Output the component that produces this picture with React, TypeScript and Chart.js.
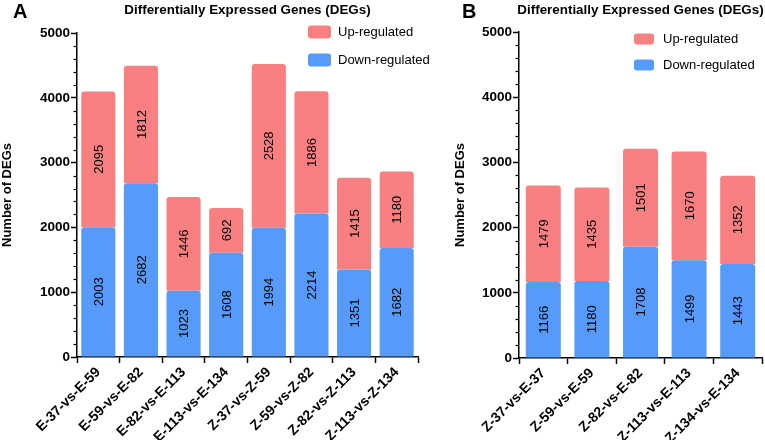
import React, { useEffect, useRef } from "react";
import { Chart, registerables } from "chart.js";

Chart.register(...registerables);

const FONT = '"Liberation Sans", Arial, Helvetica, sans-serif';

// ---------- data ----------
const categoriesA = [
  "E-37-vs-E-59",
  "E-59-vs-E-82",
  "E-82-vs-E-113",
  "E-113-vs-E-134",
  "Z-37-vs-Z-59",
  "Z-59-vs-Z-82",
  "Z-82-vs-Z-113",
  "Z-113-vs-Z-134",
];
const downA = [2003, 2682, 1023, 1608, 1994, 2214, 1351, 1682];
const upA = [2095, 1812, 1446, 692, 2528, 1886, 1415, 1180];

const categoriesB = [
  "Z-37-vs-E-37",
  "Z-59-vs-E-59",
  "Z-82-vs-E-82",
  "Z-113-vs-E-113",
  "Z-134-vs-E-134",
];
const downB = [1166, 1180, 1708, 1499, 1443];
const upB = [1479, 1435, 1501, 1670, 1352];

const yMin = 0;
const yMax = 5000;
const yMajorStep = 1000;
const yMinorStep = 200;

const chartTitle = "Differentially Expressed Genes (DEGs)";
const yTitle = "Number of DEGs";
const upLabel = "Up-regulated";
const downLabel = "Down-regulated";

const UP_COLOR = "#F98081";
const DOWN_COLOR = "#569BFA";

type Panel = {
  letter: string;
  width: number;
  left: number;
  categories: string[];
  down: number[];
  up: number[];
  padTop: number;
  padRight: number;
  yWidth: number;
  xHeight: number;
  barPct: number;
  yTitlePad: number;
  letterX: number;
  legendBox: { x: number; w: number; h: number; textX: number; rows: number[] };
};

const panelA: Panel = {
  letter: "A",
  width: 440,
  left: 0,
  categories: categoriesA,
  down: downA,
  up: upA,
  padTop: 33,
  padRight: 22,
  yWidth: 77,
  xHeight: 83,
  barPct: 0.8,
  yTitlePad: 0,
  letterX: 13,
  legendBox: { x: 308, w: 23, h: 13, textX: 338, rows: [32, 60] },
};

const panelB: Panel = {
  letter: "B",
  width: 325,
  left: 440,
  categories: categoriesB,
  down: downB,
  up: upB,
  padTop: 32,
  padRight: 3,
  yWidth: 79,
  xHeight: 82,
  barPct: 0.72,
  yTitlePad: 13,
  letterX: 22,
  legendBox: { x: 194, w: 20, h: 11, textX: 223, rows: [39, 65] },
};

function makeDecor(p: Panel) {
  return {
    id: "decor" + p.letter,
    afterDatasetsDraw(chart: any) {
      const ctx = chart.ctx;
      ctx.save();
      ctx.font = `13px ${FONT}`;
      ctx.fillStyle = "#000";
      ctx.textAlign = "center";
      ctx.textBaseline = "middle";
      chart.data.datasets.forEach((ds: any, di: number) => {
        const meta = chart.getDatasetMeta(di);
        meta.data.forEach((el: any, i: number) => {
          const v = ds.data[i];
          const cy = (el.y + el.base) / 2;
          ctx.save();
          ctx.translate(el.x, cy);
          ctx.rotate(-Math.PI / 2);
          ctx.fillText(String(v), 0, 1);
          ctx.restore();
        });
      });
      ctx.restore();
    },
    afterDraw(chart: any) {
      const ctx = chart.ctx;
      const ys = chart.scales.y;
      const area = chart.chartArea;
      ctx.save();
      // minor ticks
      ctx.strokeStyle = "#000";
      ctx.lineWidth = 1.2;
      const x0 = ys.right;
      for (let v = yMin + yMinorStep; v < yMax; v += yMinorStep) {
        if (v % yMajorStep === 0) continue;
        const py = Math.round(ys.getPixelForValue(v)) + 0.5;
        ctx.beginPath();
        ctx.moveTo(x0 - 3.5, py);
        ctx.lineTo(x0, py);
        ctx.stroke();
      }
      // panel letter
      ctx.fillStyle = "#000";
      ctx.textBaseline = "alphabetic";
      ctx.textAlign = "left";
      ctx.font = `bold 20px ${FONT}`;
      ctx.fillText(p.letter, p.letterX, 17.5);
      // title
      ctx.font = `bold 13.4px ${FONT}`;
      ctx.textAlign = "center";
      ctx.textBaseline = "middle";
      ctx.fillText(chartTitle, (area.left + area.right) / 2, 10);
      // legend
      const lb = p.legendBox;
      const items = [
        { label: upLabel, color: UP_COLOR },
        { label: downLabel, color: DOWN_COLOR },
      ];
      items.forEach((it, i) => {
        const cy = lb.rows[i];
        ctx.fillStyle = it.color;
        ctx.beginPath();
        ctx.roundRect(lb.x, cy - lb.h / 2, lb.w, lb.h, 3);
        ctx.fill();
        ctx.fillStyle = "#000";
        ctx.font = `13px ${FONT}`;
        ctx.textAlign = "left";
        ctx.textBaseline = "middle";
        ctx.fillText(it.label, lb.textX, cy + 0.5);
      });
      ctx.restore();
    },
  };
}

function PanelChart({ p }: { p: Panel }) {
  const ref = useRef<HTMLCanvasElement | null>(null);
  useEffect(() => {
    if (!ref.current) return;
    const chart = new Chart(ref.current, {
      type: "bar",
      data: {
        labels: p.categories,
        datasets: [
          {
            label: downLabel,
            data: p.down,
            backgroundColor: DOWN_COLOR,
            borderWidth: 0,
            borderRadius: { topLeft: 3, topRight: 3, bottomLeft: 0, bottomRight: 0 },
            categoryPercentage: 1,
            barPercentage: p.barPct,
          },
          {
            label: upLabel,
            data: p.up,
            backgroundColor: UP_COLOR,
            borderWidth: 0,
            borderRadius: { topLeft: 3, topRight: 3, bottomLeft: 0, bottomRight: 0 },
            categoryPercentage: 1,
            barPercentage: p.barPct,
          },
        ],
      },
      options: {
        responsive: false,
        animation: false,
        devicePixelRatio: 1,
        layout: { padding: { top: p.padTop, right: p.padRight, left: 0, bottom: 0 } },
        plugins: {
          legend: { display: false },
          tooltip: { enabled: false },
          title: { display: false },
        },
        scales: {
          x: {
            stacked: true,
            offset: true,
            grid: {
              drawOnChartArea: false,
              drawTicks: true,
              tickLength: 6,
              tickColor: "#000",
              tickWidth: 1.5,
            },
            border: { display: true, color: "#000", width: 1.5 },
            ticks: {
              color: "#000",
              font: { family: FONT, size: 14, weight: "bold" },
              minRotation: 45,
              maxRotation: 45,
              autoSkip: false,
              padding: 1,
            },
            afterFit: (s: any) => {
              s.height = p.xHeight;
            },
          },
          y: {
            stacked: true,
            min: yMin,
            max: yMax,
            grid: {
              drawOnChartArea: false,
              drawTicks: true,
              tickLength: 6,
              tickColor: "#000",
              tickWidth: 1.5,
            },
            border: { display: true, color: "#000", width: 1.5 },
            ticks: {
              stepSize: yMajorStep,
              color: "#000",
              font: { family: FONT, size: 13.5, weight: "bold" },
              padding: 1,
              callback: (v: any) => String(v),
            },
            title: {
              display: true,
              text: yTitle,
              color: "#000",
              font: { family: FONT, size: 13, weight: "bold" },
              padding: { top: p.yTitlePad, bottom: 0 },
            },
            afterFit: (s: any) => {
              s.width = p.yWidth;
            },
          },
        },
      },
      plugins: [makeDecor(p)],
    } as any);
    return () => chart.destroy();
  }, [p]);
  return (
    <canvas
      ref={ref}
      width={p.width}
      height={440}
      style={{ position: "absolute", left: p.left, top: 0, width: p.width, height: 440, display: "block" }}
    />
  );
}

export default function App() {
  return (
    <div style={{ position: "absolute", left: 0, top: 0, width: 765, height: 440, background: "#fff" }}>
      <PanelChart p={panelA} />
      <PanelChart p={panelB} />
    </div>
  );
}
